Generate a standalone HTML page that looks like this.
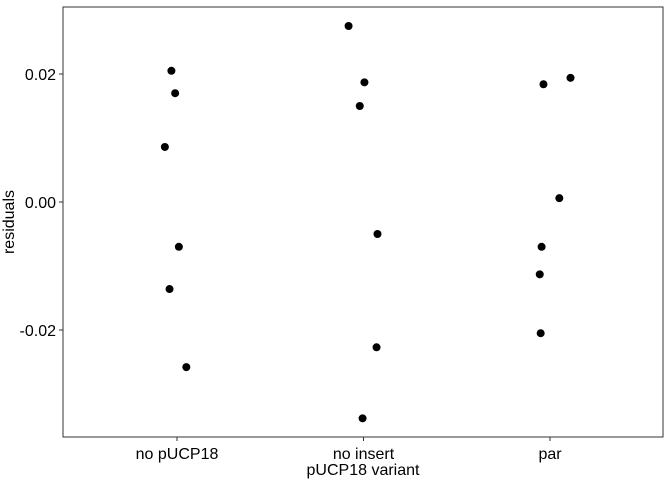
<!DOCTYPE html>
<html><head><meta charset="utf-8"><style>
body{margin:0;background:#fff;}
svg text{font-family:"Liberation Sans",sans-serif;}
</style></head><body>
<svg id="chart" width="672" height="480" xmlns="http://www.w3.org/2000/svg"></svg>
<script>
const categories = ["no pUCP18", "no insert", "par"];
const catIndex = [0,0,0,0,0,0, 1,1,1,1,1,1, 2,2,2,2,2,2];
const residuals = [0.0205,0.0170,0.0086,-0.0070,-0.0136,-0.0258,
                   0.0275,0.0187,0.0150,-0.0050,-0.0227,-0.0338,
                   0.0194,0.0184,0.0006,-0.0070,-0.0113,-0.0205];
const jitter = [-0.03,-0.01,-0.065,0.01,-0.04,0.05,
                -0.08,0.005,-0.02,0.075,0.07,-0.005,
                0.11,-0.035,0.05,-0.045,-0.055,-0.05];
const yTicks = [-0.02, 0.00, 0.02];
const yTickLabels = ["-0.02", "0.00", "0.02"];

const NS = "http://www.w3.org/2000/svg";
const svg = document.getElementById("chart");
const L=63, R=663, T=7, B=437;
const x = c => 177 + c*186.5;
const y = v => 202 - v*6400;
function mk(tag, attrs, parent){const e=document.createElementNS(NS,tag);for(const k in attrs)e.setAttribute(k,attrs[k]);(parent||svg).appendChild(e);return e;}

const panel = mk("rect",{x:L,y:T,width:R-L,height:B-T,fill:"#fff",stroke:"#333","stroke-width":1});



yTicks.forEach((t,i)=>{
  const tk = mk("line",{x1:L-4,x2:L,y1:y(t),y2:y(t),stroke:"#333"});
  
  
  const lb = mk("text",{x:L-7,y:y(t)+6,"text-anchor":"end","font-size":16,fill:"#000"});
  lb.textContent = yTickLabels[i];
  
  
});
categories.forEach((c,i)=>{
  const tk = mk("line",{x1:x(i),x2:x(i),y1:B,y2:B+4,stroke:"#333"});
  
  
  const lb = mk("text",{x:x(i),y:B+22,"text-anchor":"middle","font-size":16,fill:"#000"});
  lb.textContent = c;
  
  
});
const xt = mk("text",{x:(L+R)/2,y:475,"text-anchor":"middle","font-size":16,fill:"#000"});
xt.textContent="pUCP18 variant";


const yt = mk("text",{x:0,y:0,"text-anchor":"middle","font-size":16,fill:"#000",transform:`translate(14,${(T+B)/2}) rotate(-90)`});
yt.textContent="residuals";



residuals.forEach((v,i)=>{
  const p = mk("circle",{cx:x(catIndex[i]+jitter[i]),cy:y(v),r:4,fill:"#000"});
  
  
});
</script>
</body></html>
